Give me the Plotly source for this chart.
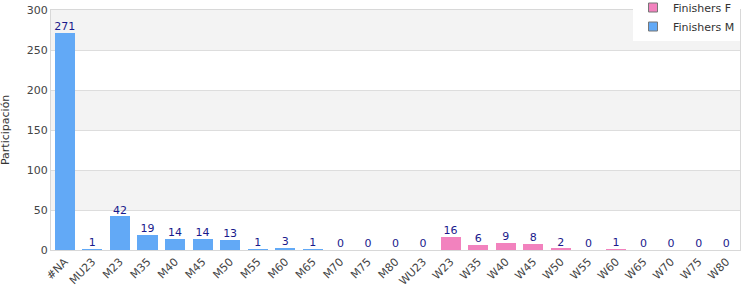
import plotly.graph_objects as go

categories = ["#NA", "MU23", "M23", "M35", "M40", "M45", "M50", "M55", "M60", "M65",
              "M70", "M75", "M80", "WU23", "W23", "W35", "W40", "W45", "W50", "W55",
              "W60", "W65", "W70", "W75", "W80"]
finishers_m = [271, 1, 42, 19, 14, 14, 13, 1, 3, 1, 0, 0, 0, 0,
               0, 0, 0, 0, 0, 0, 0, 0, 0, 0, 0]
finishers_f = [0, 0, 0, 0, 0, 0, 0, 0, 0, 0, 0, 0, 0, 0,
               16, 6, 9, 8, 2, 0, 1, 0, 0, 0, 0]
y_ticks = [0, 50, 100, 150, 200, 250, 300]

totals = [m + f for m, f in zip(finishers_m, finishers_f)]

FONT = "DejaVu Sans"
COL_F = "#f282be"
COL_M = "#62a9f6"
fig = go.Figure()
fig.add_trace(go.Bar(x=categories, y=finishers_f, name="Finishers F", showlegend=False,
                     marker=dict(color=COL_F, line=dict(width=0))))
fig.add_trace(go.Bar(x=categories, y=finishers_m, name="Finishers M", showlegend=False,
                     marker=dict(color=COL_M, line=dict(width=0))))
fig.add_trace(go.Scatter(x=categories, y=totals, mode="text",
                         text=[str(t) for t in totals], textposition="top center",
                         textfont=dict(color="#1a1a8c", size=11, family=FONT),
                         showlegend=False, hoverinfo="skip"))
# legend entries
for name, col in [("Finishers F", COL_F), ("Finishers M", COL_M)]:
    fig.add_trace(go.Scatter(x=[categories[0]], y=[None], mode="markers", name=name,
                             marker=dict(symbol="square", size=9, color=col,
                                         line=dict(color="#777777", width=1))))

shapes = [dict(type="rect", xref="paper", yref="y", x0=0, x1=1,
               y0=y_ticks[i], y1=y_ticks[i + 1],
               fillcolor="#f3f3f3", line=dict(width=0), layer="below")
          for i in range(1, len(y_ticks) - 1, 2)]

fig.update_layout(
    width=750, height=300,
    margin=dict(l=51, r=10, t=10, b=50, autoexpand=False),
    barmode="stack", bargap=0.27,
    plot_bgcolor="white", paper_bgcolor="white",
    font=dict(family=FONT, size=11, color="#333333"),
    shapes=shapes,
    showlegend=True,
    legend=dict(x=1, xanchor="right", y=1 + 17 / 240, yanchor="top",
                bgcolor="white", font=dict(size=11, color="#333333"),
                tracegroupgap=0, traceorder="normal", itemwidth=30),
    annotations=[dict(text="Participación", textangle=-90, xref="paper", yref="paper",
                      x=-46 / 690, y=0.5, xanchor="center", yanchor="middle",
                      showarrow=False, font=dict(size=11, color="#333333"))],
    xaxis=dict(tickangle=-45, showgrid=False, linecolor="#d8d8d8", mirror=True,
               showline=True, ticks="", tickfont=dict(size=11, color="#444444"),
               range=[-0.5, len(categories) - 0.5],
               categoryorder="array", categoryarray=categories,
               fixedrange=True, automargin=False),
    yaxis=dict(range=[0, 300], tickvals=y_ticks, gridcolor="#dddddd",
               linecolor="#d8d8d8", showline=True, mirror=True, zeroline=False,
               ticks="", tickfont=dict(size=11, color="#444444"), automargin=False),
)
fig.write_html("out.html")
